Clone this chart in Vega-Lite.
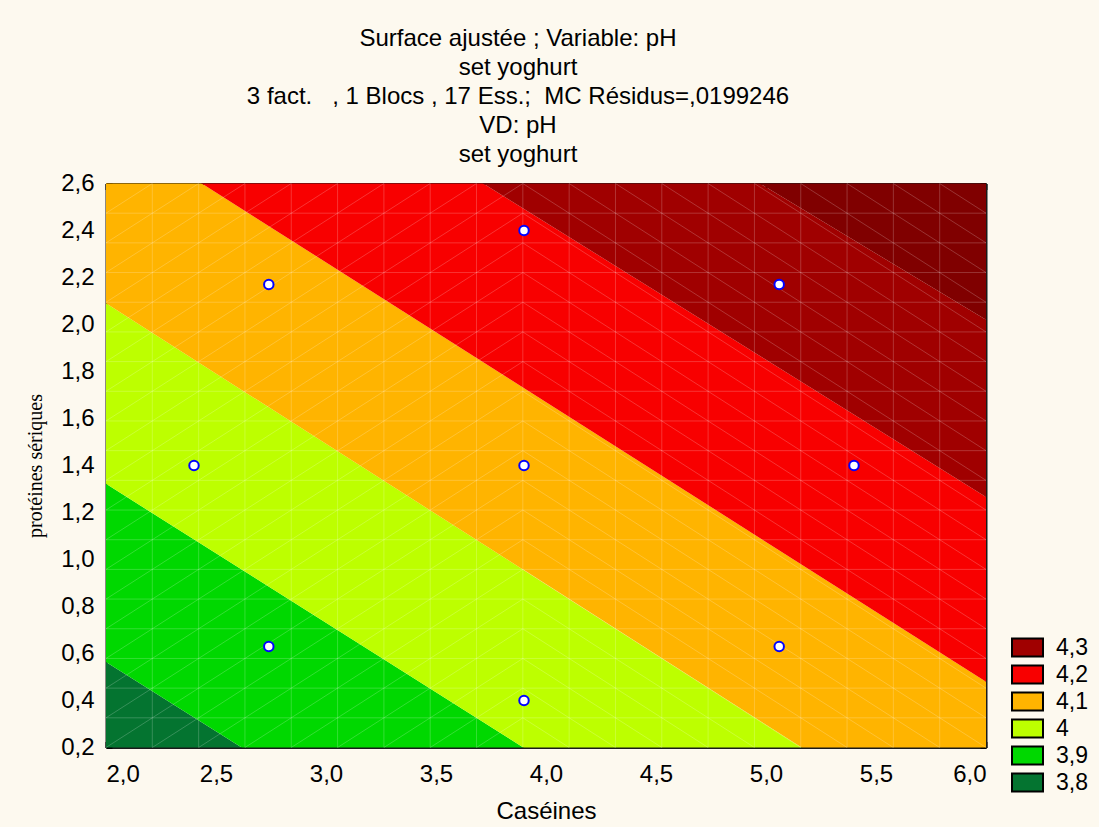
{
  "$schema": "https://vega.github.io/schema/vega-lite/v6.json",
  "autosize": "none",
  "width": 880,
  "height": 564,
  "padding": {"left": 106, "top": 183.5, "right": 113, "bottom": 79.5},
  "background": "#fdf9ef",
  "title": {
    "text": ["Surface ajustée ; Variable: pH", "set yoghurt", "3 fact.\u00a0\u00a0\u00a0, 1 Blocs , 17 Ess.;\u00a0\u00a0MC Résidus=,0199246", "VD: pH", "set yoghurt"],
    "font": "Liberation Sans",
    "fontSize": 24,
    "fontWeight": "normal",
    "color": "#000000",
    "lineHeight": 29,
    "anchor": "middle",
    "dx": -28,
    "offset": 5
  },
  "datasets": {
    "bands": [
      {"level": "3,8", "x": 2, "lo": -3, "hi": 0.564},
      {"level": "3,8", "x": 6, "lo": -3, "hi": -1.796},
      {"level": "3,9", "x": 2, "lo": 0.564, "hi": 1.322},
      {"level": "3,9", "x": 6, "lo": -1.796, "hi": -1.044},
      {"level": "4", "x": 2, "lo": 1.322, "hi": 2.09},
      {"level": "4", "x": 6, "lo": -1.044, "hi": -0.301},
      {"level": "4,1", "x": 2, "lo": 2.09, "hi": 2.859},
      {"level": "4,1", "x": 6, "lo": -0.301, "hi": 0.48},
      {"level": "4,2", "x": 2, "lo": 2.859, "hi": 3.601},
      {"level": "4,2", "x": 6, "lo": 0.48, "hi": 1.266},
      {"level": "4,3", "x": 2, "lo": 3.601, "hi": 4.276},
      {"level": "4,3", "x": 6, "lo": 1.266, "hi": 2.02},
      {"level": "4,4", "x": 2, "lo": 4.276, "hi": 6},
      {"level": "4,4", "x": 6, "lo": 2.02, "hi": 6}
    ],
    "mesh": [
      {"x": 2.2105, "y": 0.2, "x2": 2.2105, "y2": 2.6},
      {"x": 2.4211, "y": 0.2, "x2": 2.4211, "y2": 2.6},
      {"x": 2.6316, "y": 0.2, "x2": 2.6316, "y2": 2.6},
      {"x": 2.8421, "y": 0.2, "x2": 2.8421, "y2": 2.6},
      {"x": 3.0526, "y": 0.2, "x2": 3.0526, "y2": 2.6},
      {"x": 3.2632, "y": 0.2, "x2": 3.2632, "y2": 2.6},
      {"x": 3.4737, "y": 0.2, "x2": 3.4737, "y2": 2.6},
      {"x": 3.6842, "y": 0.2, "x2": 3.6842, "y2": 2.6},
      {"x": 3.8947, "y": 0.2, "x2": 3.8947, "y2": 2.6},
      {"x": 4.1053, "y": 0.2, "x2": 4.1053, "y2": 2.6},
      {"x": 4.3158, "y": 0.2, "x2": 4.3158, "y2": 2.6},
      {"x": 4.5263, "y": 0.2, "x2": 4.5263, "y2": 2.6},
      {"x": 4.7368, "y": 0.2, "x2": 4.7368, "y2": 2.6},
      {"x": 4.9474, "y": 0.2, "x2": 4.9474, "y2": 2.6},
      {"x": 5.1579, "y": 0.2, "x2": 5.1579, "y2": 2.6},
      {"x": 5.3684, "y": 0.2, "x2": 5.3684, "y2": 2.6},
      {"x": 5.5789, "y": 0.2, "x2": 5.5789, "y2": 2.6},
      {"x": 5.7895, "y": 0.2, "x2": 5.7895, "y2": 2.6},
      {"x": 2, "y": 0.3263, "x2": 6, "y2": 0.3263},
      {"x": 2, "y": 0.4526, "x2": 6, "y2": 0.4526},
      {"x": 2, "y": 0.5789, "x2": 6, "y2": 0.5789},
      {"x": 2, "y": 0.7053, "x2": 6, "y2": 0.7053},
      {"x": 2, "y": 0.8316, "x2": 6, "y2": 0.8316},
      {"x": 2, "y": 0.9579, "x2": 6, "y2": 0.9579},
      {"x": 2, "y": 1.0842, "x2": 6, "y2": 1.0842},
      {"x": 2, "y": 1.2105, "x2": 6, "y2": 1.2105},
      {"x": 2, "y": 1.3368, "x2": 6, "y2": 1.3368},
      {"x": 2, "y": 1.4632, "x2": 6, "y2": 1.4632},
      {"x": 2, "y": 1.5895, "x2": 6, "y2": 1.5895},
      {"x": 2, "y": 1.7158, "x2": 6, "y2": 1.7158},
      {"x": 2, "y": 1.8421, "x2": 6, "y2": 1.8421},
      {"x": 2, "y": 1.9684, "x2": 6, "y2": 1.9684},
      {"x": 2, "y": 2.0947, "x2": 6, "y2": 2.0947},
      {"x": 2, "y": 2.2211, "x2": 6, "y2": 2.2211},
      {"x": 2, "y": 2.3474, "x2": 6, "y2": 2.3474},
      {"x": 2, "y": 2.4737, "x2": 6, "y2": 2.4737},
      {"x": 2, "y": 2.4737, "x2": 2.2105, "y2": 2.6},
      {"x": 2, "y": 2.3474, "x2": 2.4211, "y2": 2.6},
      {"x": 2, "y": 2.2211, "x2": 2.6316, "y2": 2.6},
      {"x": 2, "y": 2.0947, "x2": 2.8421, "y2": 2.6},
      {"x": 2, "y": 1.9684, "x2": 3.0526, "y2": 2.6},
      {"x": 2, "y": 1.8421, "x2": 3.2632, "y2": 2.6},
      {"x": 2, "y": 1.7158, "x2": 3.4737, "y2": 2.6},
      {"x": 2, "y": 1.5895, "x2": 3.6842, "y2": 2.6},
      {"x": 2, "y": 1.4632, "x2": 3.8947, "y2": 2.6},
      {"x": 2, "y": 1.3368, "x2": 3.8947, "y2": 2.4737},
      {"x": 2, "y": 1.2105, "x2": 3.8947, "y2": 2.3474},
      {"x": 2, "y": 1.0842, "x2": 3.8947, "y2": 2.2211},
      {"x": 2, "y": 0.9579, "x2": 3.8947, "y2": 2.0947},
      {"x": 2, "y": 0.8316, "x2": 3.8947, "y2": 1.9684},
      {"x": 2, "y": 0.7053, "x2": 3.8947, "y2": 1.8421},
      {"x": 2, "y": 0.5789, "x2": 3.8947, "y2": 1.7158},
      {"x": 2, "y": 0.4526, "x2": 3.8947, "y2": 1.5895},
      {"x": 2, "y": 0.3263, "x2": 3.8947, "y2": 1.4632},
      {"x": 2, "y": 0.2, "x2": 3.8947, "y2": 1.3368},
      {"x": 2.2105, "y": 0.2, "x2": 3.8947, "y2": 1.2105},
      {"x": 2.4211, "y": 0.2, "x2": 3.8947, "y2": 1.0842},
      {"x": 2.6316, "y": 0.2, "x2": 3.8947, "y2": 0.9579},
      {"x": 2.8421, "y": 0.2, "x2": 3.8947, "y2": 0.8316},
      {"x": 3.0526, "y": 0.2, "x2": 3.8947, "y2": 0.7053},
      {"x": 3.2632, "y": 0.2, "x2": 3.8947, "y2": 0.5789},
      {"x": 3.4737, "y": 0.2, "x2": 3.8947, "y2": 0.4526},
      {"x": 3.6842, "y": 0.2, "x2": 3.8947, "y2": 0.3263},
      {"x": 3.8947, "y": 0.3263, "x2": 4.1053, "y2": 0.2},
      {"x": 3.8947, "y": 0.4526, "x2": 4.3158, "y2": 0.2},
      {"x": 3.8947, "y": 0.5789, "x2": 4.5263, "y2": 0.2},
      {"x": 3.8947, "y": 0.7053, "x2": 4.7368, "y2": 0.2},
      {"x": 3.8947, "y": 0.8316, "x2": 4.9474, "y2": 0.2},
      {"x": 3.8947, "y": 0.9579, "x2": 5.1579, "y2": 0.2},
      {"x": 3.8947, "y": 1.0842, "x2": 5.3684, "y2": 0.2},
      {"x": 3.8947, "y": 1.2105, "x2": 5.5789, "y2": 0.2},
      {"x": 3.8947, "y": 1.3368, "x2": 5.7895, "y2": 0.2},
      {"x": 3.8947, "y": 1.4632, "x2": 6, "y2": 0.2},
      {"x": 3.8947, "y": 1.5895, "x2": 6, "y2": 0.3263},
      {"x": 3.8947, "y": 1.7158, "x2": 6, "y2": 0.4526},
      {"x": 3.8947, "y": 1.8421, "x2": 6, "y2": 0.5789},
      {"x": 3.8947, "y": 1.9684, "x2": 6, "y2": 0.7053},
      {"x": 3.8947, "y": 2.0947, "x2": 6, "y2": 0.8316},
      {"x": 3.8947, "y": 2.2211, "x2": 6, "y2": 0.9579},
      {"x": 3.8947, "y": 2.3474, "x2": 6, "y2": 1.0842},
      {"x": 3.8947, "y": 2.4737, "x2": 6, "y2": 1.2105},
      {"x": 3.8947, "y": 2.6, "x2": 6, "y2": 1.3368},
      {"x": 4.1053, "y": 2.6, "x2": 6, "y2": 1.4632},
      {"x": 4.3158, "y": 2.6, "x2": 6, "y2": 1.5895},
      {"x": 4.5263, "y": 2.6, "x2": 6, "y2": 1.7158},
      {"x": 4.7368, "y": 2.6, "x2": 6, "y2": 1.8421},
      {"x": 4.9474, "y": 2.6, "x2": 6, "y2": 1.9684},
      {"x": 5.1579, "y": 2.6, "x2": 6, "y2": 2.0947},
      {"x": 5.3684, "y": 2.6, "x2": 6, "y2": 2.2211},
      {"x": 5.5789, "y": 2.6, "x2": 6, "y2": 2.3474},
      {"x": 5.7895, "y": 2.6, "x2": 6, "y2": 2.4737}
    ],
    "points": [
      {"cas": 2.4, "prot": 1.4},
      {"cas": 2.74, "prot": 0.63},
      {"cas": 2.74, "prot": 2.17},
      {"cas": 3.9, "prot": 0.4},
      {"cas": 3.9, "prot": 1.4},
      {"cas": 3.9, "prot": 2.4},
      {"cas": 5.06, "prot": 0.63},
      {"cas": 5.06, "prot": 2.17},
      {"cas": 5.4, "prot": 1.4}
    ]
  },
  "layer": [
    {
      "data": {"name": "bands"},
      "mark": {"type": "area", "clip": true, "opacity": 1},
      "encoding": {
        "x": {
          "field": "x", "type": "quantitative",
          "scale": {"domain": [2, 6], "nice": false, "zero": false},
          "axis": {
            "values": [2, 2.5, 3, 3.5, 4, 4.5, 5, 5.5, 6],
            "labelExpr": "replace(format(datum.value, '.1f'), '.', ',')",
            "labelFont": "Liberation Sans", "labelFontSize": 24, "labelColor": "#000000",
            "labelPadding": 21, "labelBaseline": "top",
            "tickSize": -6, "tickWidth": 2, "tickColor": "#000000",
            "domainColor": "#1a1a1a", "domainWidth": 2,
            "grid": false,
            "title": "Caséines",
            "titleFont": "Liberation Sans", "titleFontSize": 24, "titleFontWeight": "normal", "titleColor": "#000000",
            "titleY": 64, "titleBaseline": "middle"
          }
        },
        "y": {
          "field": "hi", "type": "quantitative",
          "scale": {"domain": [0.2, 2.6], "nice": false, "zero": false},
          "axis": {
            "values": [0.2, 0.4, 0.6, 0.8, 1.0, 1.2, 1.4, 1.6, 1.8, 2.0, 2.2, 2.4, 2.6],
            "labelExpr": "replace(format(datum.value, '.1f'), '.', ',')",
            "labelFont": "Liberation Sans", "labelFontSize": 24, "labelColor": "#000000",
            "labelPadding": 18,
            "tickSize": -6, "tickWidth": 2, "tickColor": "#000000",
            "domainColor": "#1a1a1a", "domainWidth": 2,
            "grid": false,
            "title": "protéines sériques",
            "titleFont": "Liberation Serif", "titleFontSize": 20, "titleFontWeight": "normal", "titleColor": "#000000",
            "titleAngle": -90, "titleX": -71, "titleY": 282, "titleAlign": "center", "titleBaseline": "middle"
          }
        },
        "y2": {"field": "lo"},
        "color": {
          "field": "level", "type": "nominal",
          "scale": {
            "domain": ["4,3", "4,2", "4,1", "4", "3,9", "3,8", "4,4"],
            "range": ["#a00000", "#f80000", "#ffb400", "#bdff00", "#00d800", "#047430", "#800000"]
          },
          "legend": {
            "values": ["4,3", "4,2", "4,1", "4", "3,9", "3,8"],
            "title": null,
            "orient": "none",
            "legendX": 905,
            "legendY": 453,
            "padding": 0,
            "symbolType": "M-1,-0.58H1V0.58H-1Z",
            "symbolSize": 961,
            "symbolStrokeColor": "#000000",
            "symbolStrokeWidth": 2,
            "symbolOpacity": 1,
            "clipHeight": 22,
            "rowPadding": 4,
            "labelFont": "Liberation Sans",
            "labelFontSize": 23,
            "labelColor": "#000000",
            "labelOffset": 12,
            "encode": {"symbols": {"update": {"stroke": {"value": "#000000"}, "strokeWidth": {"value": 2}}}}
          }
        }
      }
    },
    {
      "data": {"name": "mesh"},
      "mark": {"type": "rule", "color": "#ffffff", "strokeOpacity": 0.2, "strokeWidth": 1},
      "encoding": {
        "x": {"field": "x", "type": "quantitative", "axis": null},
        "y": {"field": "y", "type": "quantitative", "axis": null},
        "x2": {"field": "x2"},
        "y2": {"field": "y2"}
      }
    },
    {
      "data": {"name": "points"},
      "mark": {"type": "point", "filled": true, "fill": "#ffffff", "stroke": "#0000ff", "strokeWidth": 2, "size": 90, "opacity": 1},
      "encoding": {
        "x": {
          "field": "cas", "type": "quantitative",
          "axis": {"orient": "top", "values": [2, 2.5, 3, 3.5, 4, 4.5, 5, 5.5, 6], "labels": false, "title": null, "tickSize": -6, "tickWidth": 2, "tickColor": "#000000", "domainColor": "#1a1a1a", "domainWidth": 2, "grid": false}
        },
        "y": {
          "field": "prot", "type": "quantitative",
          "axis": {"orient": "right", "values": [0.2, 0.4, 0.6, 0.8, 1.0, 1.2, 1.4, 1.6, 1.8, 2.0, 2.2, 2.4, 2.6], "labels": false, "title": null, "tickSize": -6, "tickWidth": 2, "tickColor": "#000000", "domainColor": "#1a1a1a", "domainWidth": 2, "grid": false}
        }
      }
    }
  ],
  "resolve": {"axis": {"x": "independent", "y": "independent"}},
  "config": {"view": {"stroke": null}}
}
